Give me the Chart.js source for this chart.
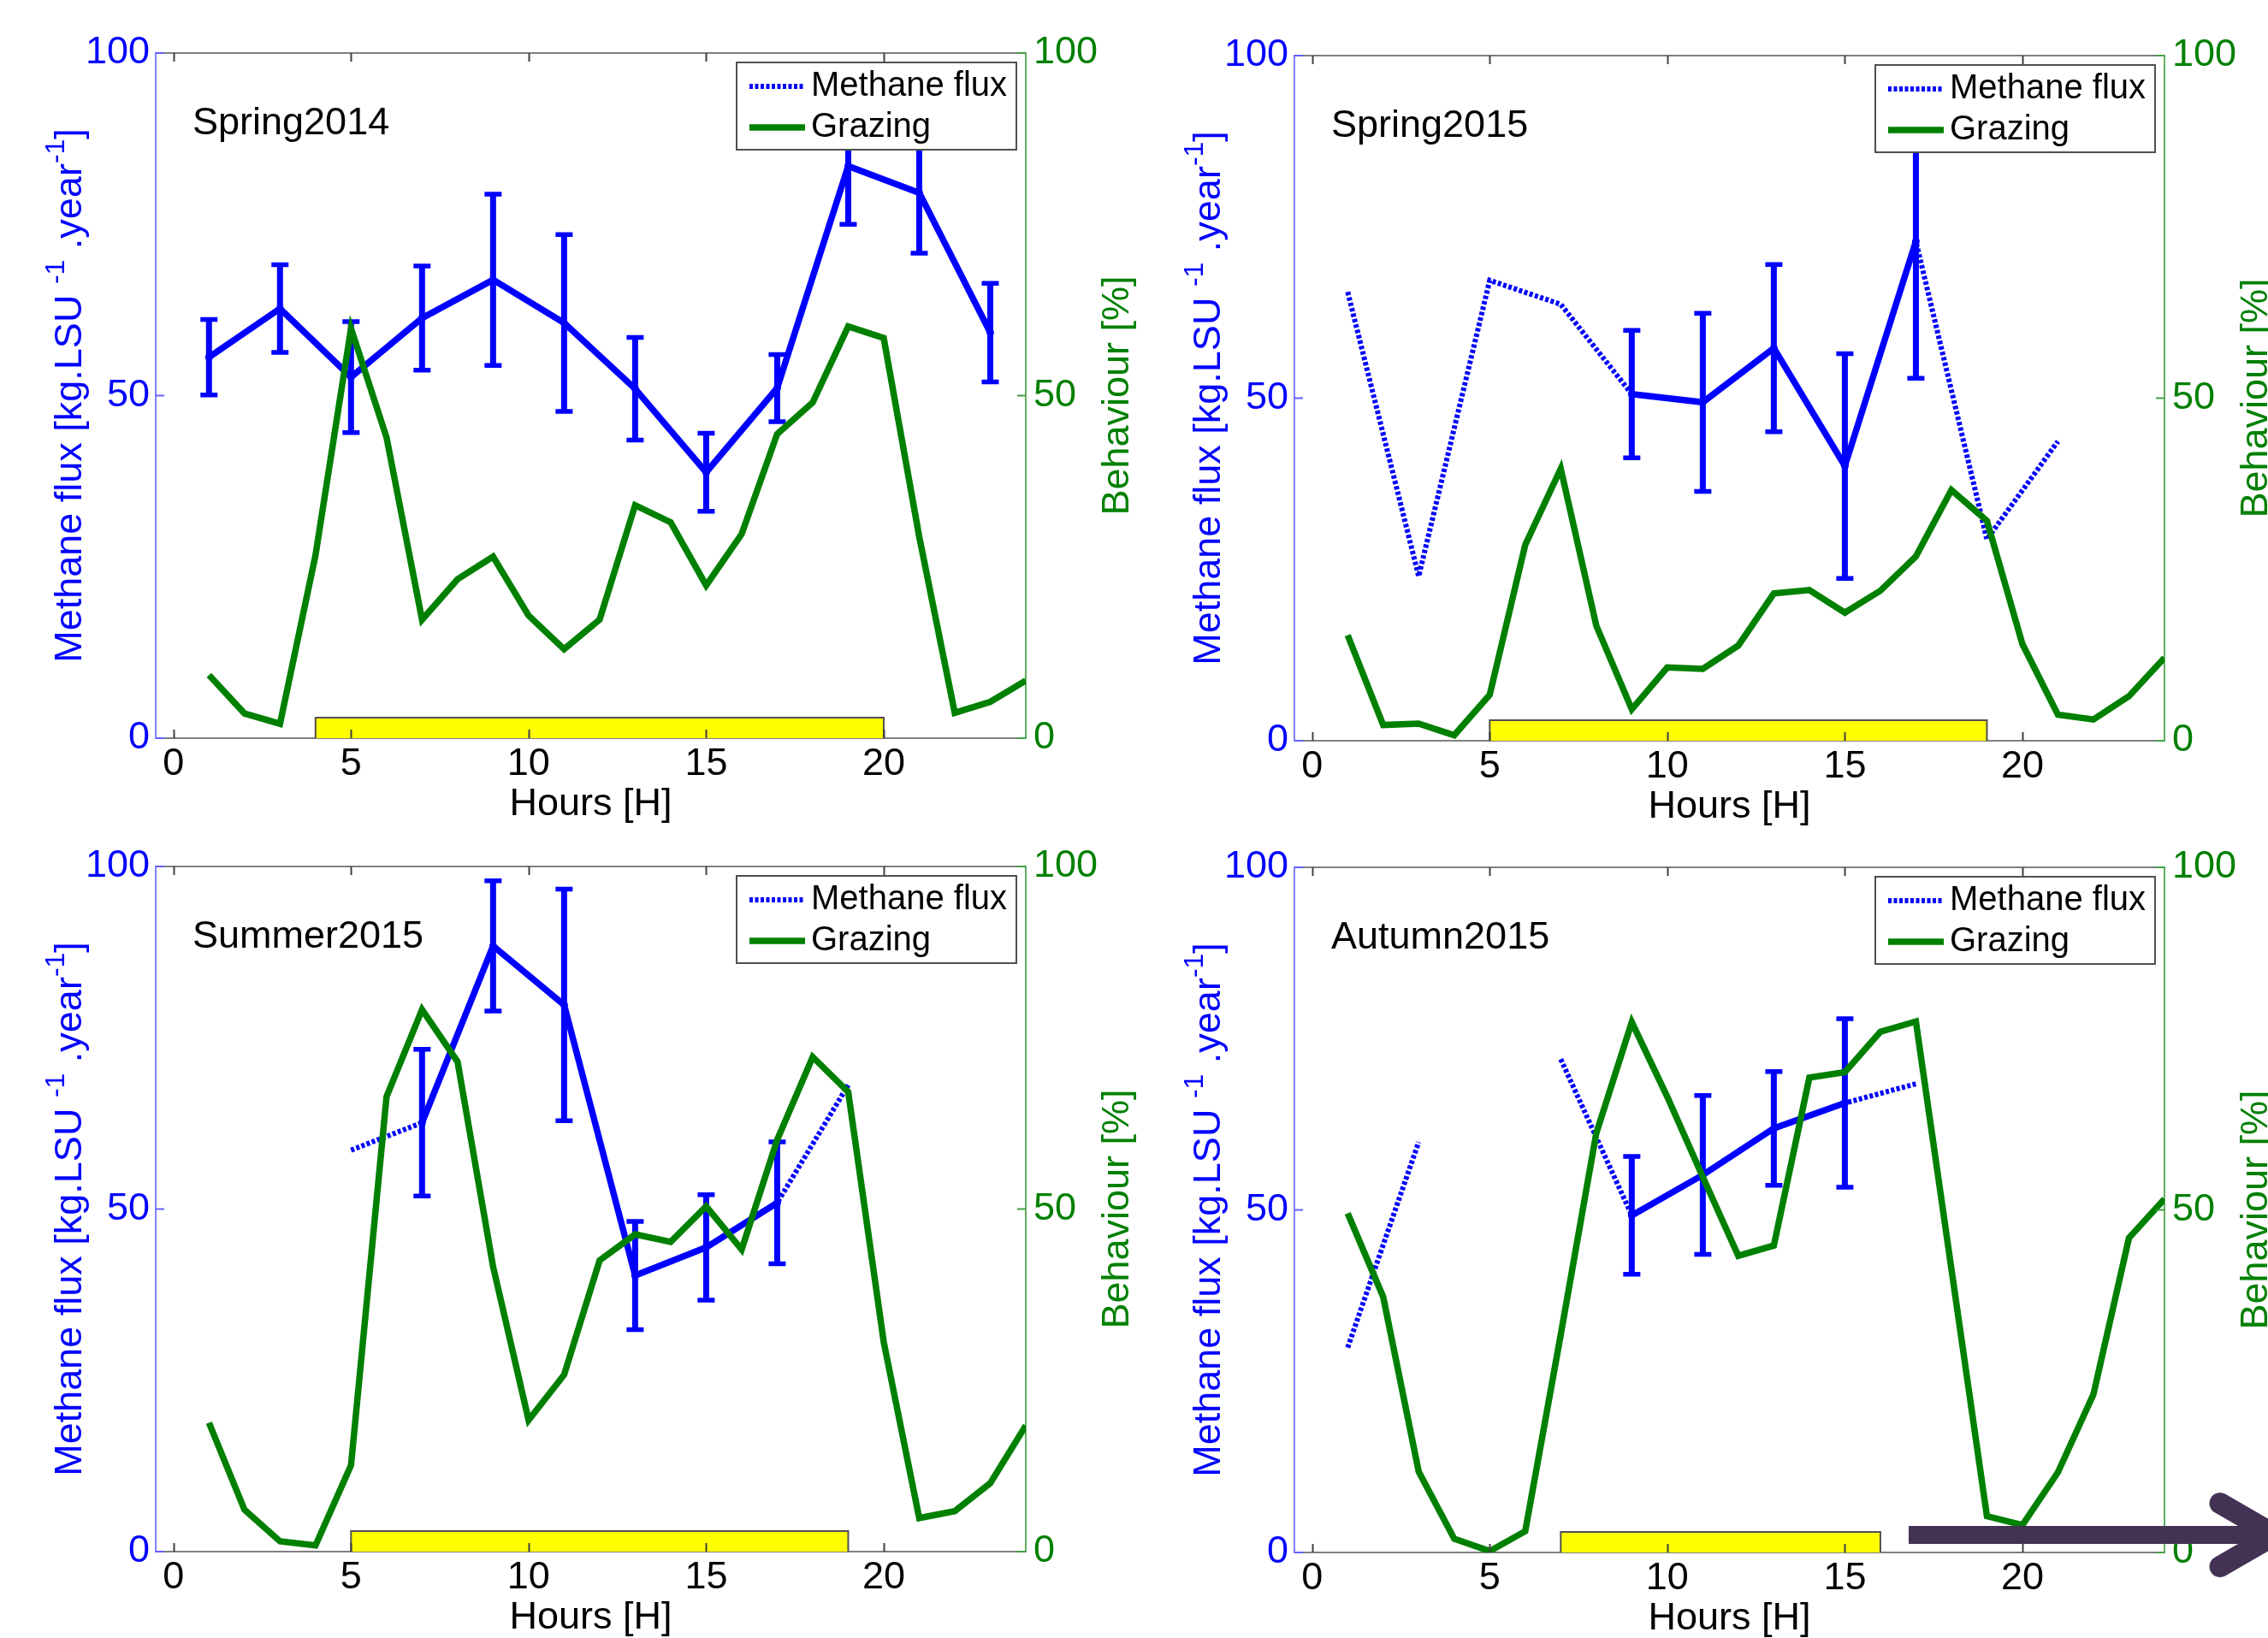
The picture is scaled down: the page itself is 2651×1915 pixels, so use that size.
<!DOCTYPE html>
<html><head><meta charset="utf-8">
<script src="https://cdn.jsdelivr.net/npm/chart.js@4.4.1/dist/chart.umd.min.js"></script>
<style>
html,body{margin:0;padding:0;background:#fff;overflow:hidden;width:2651px;height:1915px;position:relative;}
canvas{position:absolute;}
</style></head><body>
<canvas id="c1" width="1330" height="968" style="left:0px;top:0px"></canvas>
<canvas id="c2" width="1330" height="968" style="left:1331px;top:3px"></canvas>
<canvas id="c3" width="1330" height="968" style="left:0px;top:951px"></canvas>
<canvas id="c4" width="1330" height="968" style="left:1331px;top:952px"></canvas>
<script>
// ---------------- data ----------------
const hours = [1,2,3,4,5,6,7,8,9,10,11,12,13,14,15,16,17,18,19,20,21,22,23,24];
const fluxHours = [1,3,5,7,9,11,13,15,17,19,21,23];
const xTickValues = [0,5,10,15,20];
const yTickValues = [0,50,100];
const panelTitles = ['Spring2014','Spring2015','Summer2015','Autumn2015'];

// Spring 2014
const spring14Grazing = [9.2,3.6,2.1,26.7,59.8,43.9,17.3,23.2,26.5,17.9,13.0,17.3,34.0,31.5,22.3,29.8,44.4,49.0,60.1,58.4,29.4,3.7,5.3,8.4];
const spring14Flux    = [55.6,62.7,52.7,61.3,66.9,60.6,51.0,38.8,51.1,83.5,79.6,59.2];
const spring14Mean    = [55.6,62.7,52.7,61.3,66.9,60.6,51.0,38.8,51.1,83.5,79.6,59.2];
const spring14Err     = [5.5,6.4,8.1,7.6,12.5,12.9,7.5,5.7,4.9,8.5,8.8,7.2];
const spring14Period  = [4,20];

// Spring 2015
const spring15Grazing = [15.4,2.3,2.5,0.8,6.7,28.6,39.7,16.8,4.6,10.7,10.5,13.9,21.5,22.0,18.7,21.9,26.9,36.6,32.1,14.1,3.8,3.1,6.5,12.1];
const spring15Flux    = [65.5,24.0,67.2,63.7,50.6,49.4,57.3,40.1,72.9,29.4,43.7,null];
const spring15Mean    = [null,null,null,null,50.6,49.4,57.3,40.1,72.9,null,null,null];
const spring15Err     = [null,null,null,null,9.3,13.0,12.2,16.4,20.0,null,null,null];
const spring15Period  = [5,19];

// Summer 2015
const summer15Grazing = [18.8,6.1,1.5,0.9,12.6,66.4,79.1,71.5,41.6,19.2,25.8,42.5,46.3,45.2,50.4,44.1,60.1,72.2,67.1,30.6,4.9,5.9,10.0,18.4];
const summer15Flux    = [null,null,58.6,62.6,88.4,79.8,40.3,44.4,50.9,68.1,null,null];
const summer15Mean    = [null,null,null,62.6,88.4,79.8,40.3,44.4,50.9,null,null,null];
const summer15Err     = [null,null,null,10.7,9.5,16.9,7.9,7.7,8.9,null,null,null];
const summer15Period  = [5,19];

// Autumn 2015
const autumn15Grazing = [49.5,37.3,11.8,2.0,0.2,3.1,31.8,61.2,77.4,66.5,54.8,43.3,44.8,69.3,70.1,76.0,77.5,41.4,5.3,4.0,11.7,23.1,45.9,51.6];
const autumn15Flux    = [29.9,59.9,null,72.0,49.2,55.1,61.9,65.6,68.4,null,null,null];
const autumn15Mean    = [null,null,null,null,49.2,55.1,61.9,65.6,null,null,null,null];
const autumn15Err     = [null,null,null,null,8.6,11.6,8.3,12.3,null,null,null,null];
const autumn15Period  = [7,16];

// ---------------- style / layout ----------------
const FONT = "'Liberation Sans', Arial, Helvetica, sans-serif";
Chart.defaults.font.family = FONT;
Chart.defaults.font.size = 45;
Chart.defaults.color = '#000';
const W = 1330, H = 968, L = 182, T = 62, R = 1199, B = 863;
const BLUE = '#0000ff', GREEN = '#008000';

const decor = {
  id: 'decor',
  afterDatasetDraw(chart, args) {
    const ds = chart.data.datasets[args.index];
    if (!ds.errors) return;
    const ctx = chart.ctx, xs = chart.scales.x, ys = chart.scales.y;
    ctx.save();
    ctx.strokeStyle = ds.borderColor;
    ctx.lineCap = 'butt';
    ds.data.forEach((p, i) => {
      const e = ds.errors[i];
      if (p.y == null || e == null) return;
      const px = xs.getPixelForValue(p.x);
      const yt = ys.getPixelForValue(p.y + e), yb = ys.getPixelForValue(p.y - e);
      ctx.lineWidth = 7;
      ctx.beginPath(); ctx.moveTo(px, yt); ctx.lineTo(px, yb); ctx.stroke();
      ctx.lineWidth = 5.5;
      ctx.beginPath();
      ctx.moveTo(px - 10, yt); ctx.lineTo(px + 10, yt);
      ctx.moveTo(px - 10, yb); ctx.lineTo(px + 10, yb);
      ctx.stroke();
    });
    ctx.restore();
  },
  afterDraw(chart, args, opts) {
    const ctx = chart.ctx, ca = chart.chartArea;
    const xs = chart.scales.x, ys = chart.scales.y, y2 = chart.scales.y2;
    ctx.save();
    // top frame line
    ctx.strokeStyle = '#808080'; ctx.lineWidth = 2;
    ctx.beginPath(); ctx.moveTo(ca.left, ca.top); ctx.lineTo(ca.right, ca.top); ctx.stroke();
    // inward ticks
    ctx.strokeStyle = '#404040'; ctx.lineWidth = 2;
    xTickValues.forEach(v => {
      const px = Math.round(xs.getPixelForValue(v)) + 0.5;
      ctx.beginPath();
      ctx.moveTo(px, ca.bottom); ctx.lineTo(px, ca.bottom - 10);
      ctx.moveTo(px, ca.top); ctx.lineTo(px, ca.top + 10);
      ctx.stroke();
    });
    yTickValues.forEach(v => {
      const py = ys.getPixelForValue(v);
      ctx.strokeStyle = '#6060ff';
      ctx.beginPath(); ctx.moveTo(ca.left, py); ctx.lineTo(ca.left + 10, py); ctx.stroke();
      const py2 = y2.getPixelForValue(v);
      ctx.strokeStyle = '#40a040';
      ctx.beginPath(); ctx.moveTo(ca.right, py2); ctx.lineTo(ca.right - 10, py2); ctx.stroke();
    });
    // panel title
    ctx.fillStyle = '#000'; ctx.font = '45px ' + FONT;
    ctx.textAlign = 'left'; ctx.textBaseline = 'alphabetic';
    ctx.fillText(opts.title, ca.left + 43, ca.top + 95);
    // left axis title with superscripts
    const parts = [
      {t: 'Methane flux [kg.LSU ', s: false},
      {t: '-1', s: true},
      {t: ' .year', s: false},
      {t: '-1', s: true},
      {t: ']', s: false}
    ];
    ctx.save();
    ctx.translate(ca.left - 87, (ca.top + ca.bottom) / 2);
    ctx.rotate(-Math.PI / 2);
    let total = 0;
    parts.forEach(p => { ctx.font = (p.s ? '32px ' : '45px ') + FONT; p.w = ctx.measureText(p.t).width; total += p.w; });
    let x = -total / 2;
    ctx.fillStyle = BLUE;
    parts.forEach(p => { ctx.font = (p.s ? '32px ' : '45px ') + FONT; ctx.fillText(p.t, x, p.s ? -20 : 0); x += p.w; });
    ctx.restore();
    // right axis title
    ctx.save();
    ctx.translate(ca.right + 120, (ca.top + ca.bottom) / 2);
    ctx.rotate(-Math.PI / 2);
    ctx.font = '45px ' + FONT; ctx.fillStyle = GREEN; ctx.textAlign = 'center';
    ctx.fillText('Behaviour [%]', 0, 0);
    ctx.restore();
    // legend box
    const bw = 327, bh = 102;
    const bx = ca.right - 11 - bw, by = ca.top + 11;
    ctx.fillStyle = '#fff'; ctx.fillRect(bx, by, bw, bh);
    ctx.strokeStyle = '#505050'; ctx.lineWidth = 2; ctx.strokeRect(bx, by, bw, bh);
    const items = chart.data.datasets.filter(d => d.legendRank != null).sort((a, b) => a.legendRank - b.legendRank);
    items.forEach((d, i) => {
      const cy = by + 28 + i * 48;
      ctx.save();
      ctx.strokeStyle = d.borderColor; ctx.lineWidth = d.borderWidth;
      ctx.setLineDash(d.borderDash || []);
      ctx.beginPath(); ctx.moveTo(bx + 15, cy); ctx.lineTo(bx + 80, cy); ctx.stroke();
      ctx.restore();
      ctx.fillStyle = '#000'; ctx.font = '40px ' + FONT; ctx.textBaseline = 'middle'; ctx.textAlign = 'left';
      ctx.fillText(d.label, bx + 87, cy);
    });
    // arrow (decoration)
    if (opts.arrow) {
      const ay = ca.bottom - 20.5;
      ctx.strokeStyle = '#433254'; ctx.fillStyle = '#433254';
      ctx.lineWidth = 21; ctx.lineCap = 'butt';
      ctx.beginPath(); ctx.moveTo(ca.right - 299, ay); ctx.lineTo(ca.right + 118, ay); ctx.stroke();
      ctx.lineWidth = 25; ctx.lineCap = 'round'; ctx.lineJoin = 'miter';
      const tipX = ca.right + 129;
      ctx.beginPath();
      ctx.moveTo(ca.right + 65, ay - 37); ctx.lineTo(tipX, ay); ctx.lineTo(ca.right + 65, ay + 37);
      ctx.stroke();
    }
    ctx.restore();
  }
};

function pts(xv, yv) { return xv.map((x, i) => ({x: x, y: yv[i]})); }

function makePanel(id, title, grazing, flux, mean, err, period, arrow) {
  const datasets = [
    {label: 'Grazing', legendRank: 1, data: pts(hours, grazing), yAxisID: 'y2',
     borderColor: GREEN, borderWidth: 7.5, pointRadius: 0, order: 0},
    {label: 'Methane flux (mean)', data: pts(fluxHours, mean), yAxisID: 'y', errors: err,
     borderColor: BLUE, backgroundColor: BLUE, borderWidth: 7.5, pointRadius: 4.5, pointBorderWidth: 0, order: 1},
    {label: 'Methane flux', legendRank: 0, data: pts(fluxHours, flux), yAxisID: 'y',
     borderColor: BLUE, borderWidth: 6, borderDash: [4, 2.5], pointRadius: 0, order: 2},
    {label: 'Grazing period', data: pts([period[0], period[0], period[1], period[1]], [0, 3, 3, 0]), yAxisID: 'y',
     borderColor: '#505050', borderWidth: 2, backgroundColor: '#ffff00', fill: 'origin', pointRadius: 0, order: 3}
  ];
  const setTicks = vals => (ax => { ax.ticks = vals.map(v => ({value: v})); });
  return new Chart(document.getElementById(id), {
    type: 'line',
    data: {datasets},
    options: {
      responsive: false, animation: false, devicePixelRatio: 1, events: [],
      layout: {padding: {top: T, left: 0, right: 0, bottom: 0}},
      plugins: {legend: {display: false}, tooltip: {enabled: false}, title: {display: false},
                decor: {title: title, arrow: arrow}},
      scales: {
        x: {type: 'linear', position: 'bottom', min: -0.5, max: 24,
            afterBuildTicks: setTicks(xTickValues),
            ticks: {color: '#000', padding: 4, maxRotation: 0, autoSkip: false, font: {size: 45}},
            grid: {display: false, drawTicks: false},
            border: {display: true, color: '#808080', width: 2},
            title: {display: true, text: 'Hours [H]', color: '#000', font: {size: 45}, padding: 0},
            afterFit: s => { s.height = H - B; }},
        y: {type: 'linear', position: 'left', min: 0, max: 100,
            afterBuildTicks: setTicks(yTickValues),
            ticks: {color: BLUE, padding: 7, font: {size: 45}},
            grid: {display: false, drawTicks: false},
            border: {display: true, color: '#8080ff', width: 2},
            afterFit: s => { s.width = L; }},
        y2: {type: 'linear', position: 'right', min: 0, max: 100,
            afterBuildTicks: setTicks(yTickValues),
            ticks: {color: GREEN, padding: 9, font: {size: 45}},
            grid: {display: false, drawTicks: false},
            border: {display: true, color: '#60b060', width: 2},
            afterFit: s => { s.width = W - R; }}
      }
    },
    plugins: [decor]
  });
}

makePanel('c1', panelTitles[0], spring14Grazing, spring14Flux, spring14Mean, spring14Err, spring14Period, false);
makePanel('c2', panelTitles[1], spring15Grazing, spring15Flux, spring15Mean, spring15Err, spring15Period, false);
makePanel('c3', panelTitles[2], summer15Grazing, summer15Flux, summer15Mean, summer15Err, summer15Period, false);
makePanel('c4', panelTitles[3], autumn15Grazing, autumn15Flux, autumn15Mean, autumn15Err, autumn15Period, true);
</script>
</body></html>
